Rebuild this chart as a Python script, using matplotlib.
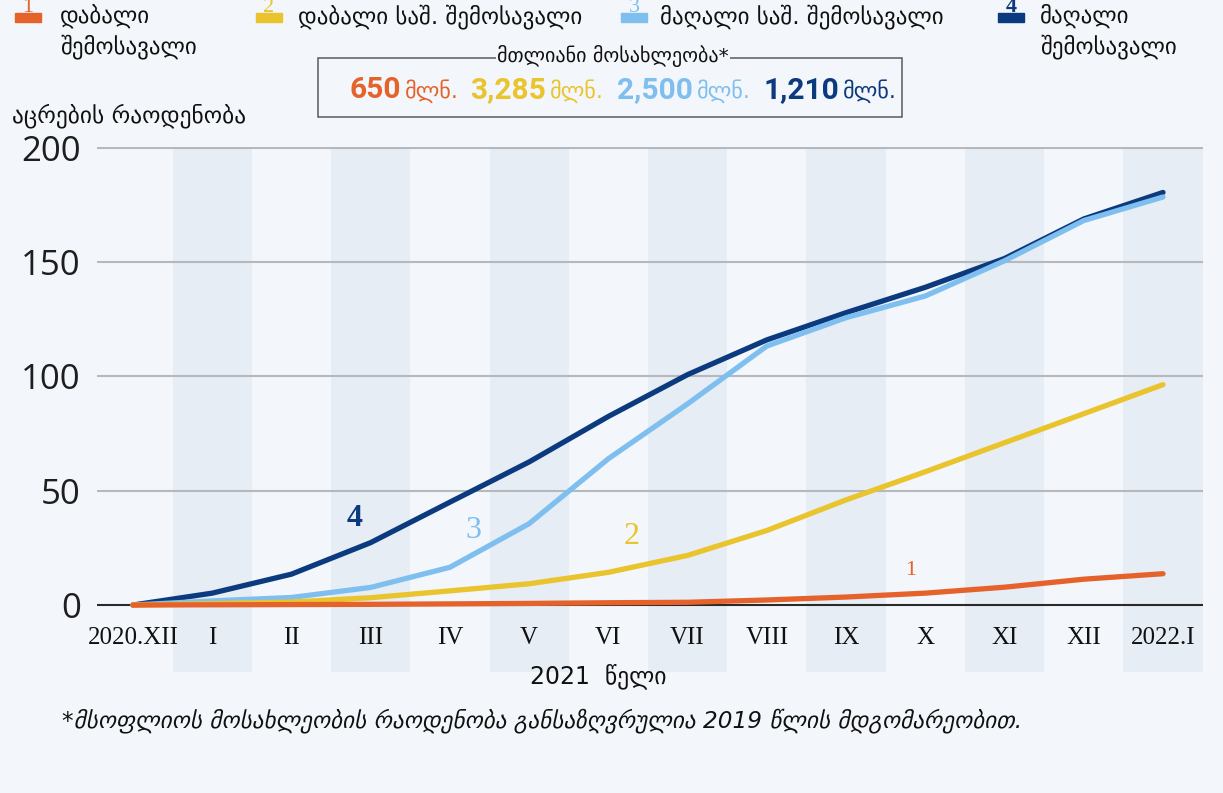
import matplotlib.pyplot as plt
from matplotlib.patches import Rectangle

# თვეები და აცრების რაოდენობა (ასეულებში) შემოსავლის ჯგუფების მიხედვით
months = ["2020.XII", "I", "II", "III", "IV", "V", "VI", "VII", "VIII",
          "IX", "X", "XI", "XII", "2022.I"]
low = [0, 0.1, 0.2, 0.3, 0.5, 0.7, 1.0, 1.2, 2.2, 3.5, 5.2, 7.8, 11.3, 13.7]
lower_mid = [0, 0.6, 1.3, 3.2, 6.2, 9.3, 14.3, 21.7, 32.6, 46.0, 58.3, 71.0, 83.7, 96.4]
upper_mid = [0, 1.8, 3.3, 7.7, 16.5, 35.6, 64.0, 88.0, 113.3, 125.7, 135.2, 150.6, 168.2, 178.5]
high = [0, 5.2, 13.5, 27.3, 45.0, 62.6, 82.5, 100.8, 116.0, 127.9, 139.0, 151.6, 168.9, 180.5]

groups = ["დაბალი\nშემოსავალი", "დაბალი საშ. შემოსავალი",
          "მაღალი საშ. შემოსავალი", "მაღალი\nშემოსავალი"]
totals = ["650", "3,285", "2,500", "1,210"]
colors = ["#e6622b", "#e9c42c", "#7fbff0", "#0c3a7e"]

W, H = 1223, 793
bg = "#f3f6fa"
band = "#e7edf5"
geo = ["DejaVu Sans"]
serif = ["Liberation Serif", "DejaVu Serif"]


def fx(px):
    return px / W


def fy(py):
    return 1 - py / H


fig = plt.figure(figsize=(W / 100, H / 100), dpi=100, facecolor=bg)

# ღერძები: 0 -> y=605px, 200 -> y=148px
ax = fig.add_axes([fx(97.3), fy(672), (1202.6 - 97.3) / W, (672 - 146.5) / H])
ax.set_facecolor(bg)
ax.set_xlim(-0.45, 13.5)
ax.set_ylim(-29.3, 200.6)
for s in ax.spines.values():
    s.set_visible(False)

x = list(range(len(months)))
for i in x:
    if i % 2 == 1:
        ax.axvspan(i - 0.5, i + 0.5, ymax=(200 + 29.3) / (200.6 + 29.3),
                   color=band, lw=0, zorder=0)

for v in [50, 100, 150, 200]:
    ax.axhline(v, color="#b5b8bc", lw=1.5, zorder=1)
ax.axhline(0, color="#2a2a2a", lw=1.5, zorder=1)

ax.set_yticks([0, 50, 100, 150, 200])
ax.set_yticklabels(["0", "50", "100", "150", "200"], family=["Open Sans", "DejaVu Sans"],
                   fontsize=25, color="#1e1e1e")
ax.tick_params(axis="y", length=0, pad=12)
ax.set_xticks([])

series = [high, upper_mid, lower_mid, low]
cols = [colors[3], colors[2], colors[1], colors[0]]
for ys, c in zip(series, cols):
    ax.plot(x, ys, color=c, lw=3.8, solid_capstyle="round", solid_joinstyle="round", zorder=3)

# ხაზების ნომრები
ax.text(2.8, 38, "4", color=colors[3], fontsize=23, family=serif, weight="bold",
        ha="center", va="center")
ax.text(4.3, 32.4, "3", color=colors[2], fontsize=23, family=serif, ha="center", va="center")
ax.text(6.3, 29.8, "2", color=colors[1], fontsize=23, family=serif, ha="center", va="center")
ax.text(9.82, 15.3, "1", color=colors[0], fontsize=16, family=serif, ha="center", va="center")

for i, m in enumerate(months):
    ax.text(i, -14.4, m, fontsize=18, family=serif, ha="center", va="center", color="#111")

# ლეგენდა
mark_x = [15, 256, 621, 998]
text_x = [60, 298, 660, 1040]
for k in range(4):
    fig.patches.append(Rectangle((fx(mark_x[k]), fy(22)), 26 / W, 9 / H,
                                 transform=fig.transFigure, color=colors[k]))
    fig.text(fx(mark_x[k] + 13), fy(12), str(k + 1), color=colors[k], fontsize=16,
             family=serif, weight="bold" if k == 3 else "normal", ha="center", va="baseline")
    fig.text(fx(text_x[k]), fy(4), groups[k], fontsize=16.5, family=geo, color="#111",
             ha="left", va="top", linespacing=1.3)

# მთლიანი მოსახლეობა
fig.patches.append(Rectangle((fx(318), fy(117)), (902 - 318) / W, (117 - 58) / H,
                             transform=fig.transFigure, fill=False, ec="#5a5a5a", lw=1.1))
fig.text(fx(613), fy(56), "მთლიანი მოსახლეობა*", fontsize=14.5, family=geo, color="#111",
         ha="center", va="center",
         bbox=dict(facecolor=bg, edgecolor="none", pad=1))
num_end = [401, 546, 693, 839]
for k in range(4):
    fig.text(fx(num_end[k]), fy(90), totals[k], fontsize=21.5, family=["Roboto"],
             weight="bold", color=colors[k], ha="right", va="center")
    fig.text(fx(num_end[k] + 4), fy(91), "მლნ.", fontsize=16, family=geo,
             color=colors[k], ha="left", va="center")

fig.text(fx(12), fy(116), "აცრების რაოდენობა", fontsize=16.8, family=geo, color="#111",
         ha="left", va="center")
fig.text(fx(598), fy(676), "2021  წელი", fontsize=17, family=geo, color="#111",
         ha="center", va="center")
fig.text(fx(62), fy(721),
         "*მსოფლიოს მოსახლეობის რაოდენობა განსაზღვრულია 2019 წლის მდგომარეობით.",
         fontsize=16.7, family=geo, style="italic", color="#111", ha="left", va="center")

fig.savefig("out.png", dpi=100, facecolor=bg)
